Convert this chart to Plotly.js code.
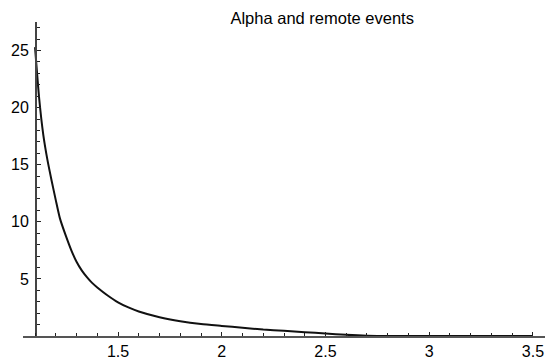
<!DOCTYPE html>
<html>
<head>
<meta charset="utf-8">
<script src="https://cdn.plot.ly/plotly-3.0.1.min.js"></script>
<style>
  html, body { margin: 0; padding: 0; background: #fff; }
  #chart { width: 547px; height: 361px; }
</style>
</head>
<body>
<div id="chart"></div>
<script>
// Sampled decay curve
const xValues = [1.10, 1.12, 1.14, 1.16, 1.18, 1.20, 1.22, 1.25, 1.275, 1.30, 1.325, 1.35, 1.375, 1.40, 1.45, 1.50,
                 1.55, 1.60, 1.70, 1.80, 1.90, 2.00, 2.10, 2.20, 2.30, 2.40, 2.50, 2.60, 2.70,
                 2.80, 2.90, 3.00, 3.10, 3.20, 3.30, 3.40, 3.50];
const yValues = [25.3, 20.8, 17.6, 15.4, 13.6, 11.9, 10.3, 8.7, 7.5, 6.5, 5.75, 5.15, 4.65, 4.25, 3.55, 2.95,
                 2.5, 2.15, 1.65, 1.3, 1.05, 0.88, 0.72, 0.56, 0.45, 0.33, 0.22, 0.1, 0.02,
                 0, 0, 0, 0, 0, 0, 0, 0];

const xTicks = [1.5, 2, 2.5, 3, 3.5];
const xTickText = ['1.5', '2', '2.5', '3', '3.5'];
const yTicks = [5, 10, 15, 20, 25];
const yTickText = ['5', '10', '15', '20', '25'];

const font = 'Liberation Sans, Arial, Helvetica, sans-serif';

const trace = {
  x: xValues,
  y: yValues,
  type: 'scatter',
  mode: 'lines',
  line: { color: '#111', width: 2, shape: 'spline', smoothing: 0.6 },
  hoverinfo: 'skip'
};

const layout = {
  width: 547,
  height: 361,
  margin: { l: 23, r: 2, t: 22, b: 25 },
  paper_bgcolor: '#fff',
  plot_bgcolor: '#fff',
  showlegend: false,
  title: {
    text: 'Alpha and remote events',
    font: { family: font, size: 16.5, color: '#000' },
    xref: 'container', yref: 'container',
    x: 0.589, xanchor: 'center',
    y: 1 - 18 / 361, yanchor: 'middle'
  },
  xaxis: {
    range: [1.042, 3.558],
    showgrid: false,
    zeroline: false,
    showline: true,
    linecolor: '#555',
    linewidth: 2,
    ticks: 'inside',
    ticklen: 4,
    tickwidth: 1,
    tickcolor: '#222',
    tickvals: xTicks,
    ticktext: xTickText,
    tickfont: { family: font, size: 16, color: '#000' },
    ticklabelstandoff: 0,
    minor: { ticks: 'inside', dtick: 0.1, tick0: 1, ticklen: 3, tickwidth: 1, tickcolor: '#222', showgrid: false }
  },
  yaxis: {
    range: [0, 27.5],
    anchor: 'free',
    position: (35 - 23) / 522,
    showgrid: false,
    zeroline: false,
    showline: true,
    linecolor: '#444',
    linewidth: 1.5,
    ticks: 'inside',
    ticklen: 4,
    tickwidth: 1,
    tickcolor: '#222',
    tickvals: yTicks,
    ticktext: yTickText,
    tickfont: { family: font, size: 16, color: '#000' },
    ticklabelstandoff: 3,
    minor: { ticks: 'inside', dtick: 1, tick0: 0, ticklen: 3, tickwidth: 1, tickcolor: '#222', showgrid: false }
  }
};

Plotly.newPlot('chart', [trace], layout, { displayModeBar: false, staticPlot: true });
</script>
</body>
</html>
